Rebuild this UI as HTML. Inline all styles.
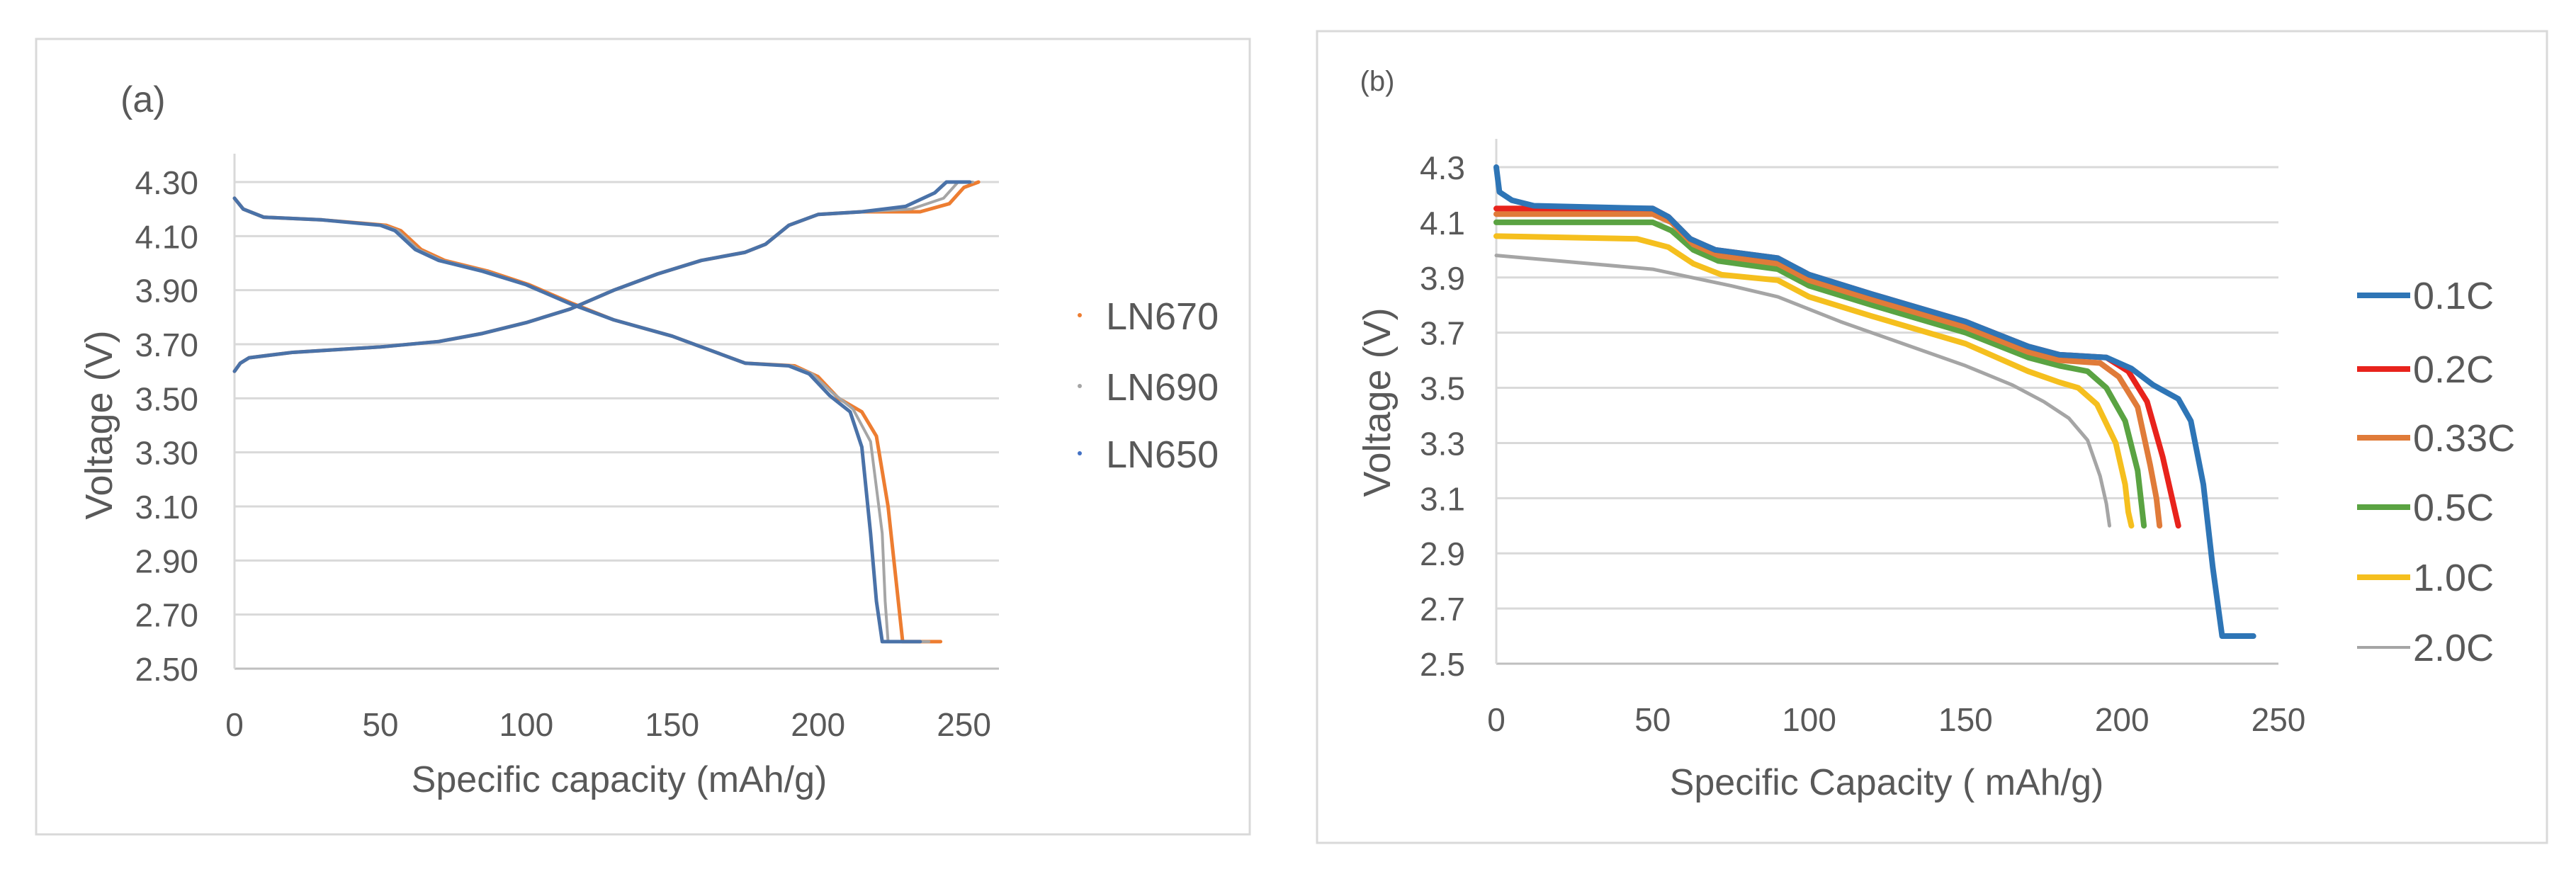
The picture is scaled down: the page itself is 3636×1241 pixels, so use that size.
<!DOCTYPE html>
<html><head><meta charset="utf-8"><style>
html,body{margin:0;padding:0;background:#fff;}
svg{display:block;font-family:"Liberation Sans",sans-serif;}
</style></head><body>
<svg id="chart" width="3636" height="1241" viewBox="0 0 3636 1241" xmlns="http://www.w3.org/2000/svg">
<rect x="51" y="55" width="1713" height="1123" fill="#fff" stroke="#d9d9d9" stroke-width="3"/>
<rect x="1859" y="44" width="1736" height="1146" fill="#fff" stroke="#d9d9d9" stroke-width="3"/>
<g id="pa"></g>
<g id="pb"></g>
</svg>
<script>
// Panel (a) data
const aTicksY = [2.5,2.7,2.9,3.1,3.3,3.5,3.7,3.9,4.1,4.3];
const aTicksX = [0,50,100,150,200,250];
const aNames = ["LN670","LN690","LN650"];
const aColors = ["#ed7d31","#a5a5a5","#4472c4"];
const aCharge670 = [[0,3.60],[2,3.63],[5,3.65],[20,3.67],[50,3.69],[70,3.71],[85,3.74],[100,3.78],[115,3.83],[130,3.90],[145,3.96],[160,4.01],[175,4.04],[182,4.07],[190,4.14],[200,4.18],[215,4.19],[235,4.19],[245,4.22],[250,4.28],[255,4.30]];
const aCharge690 = [[0,3.60],[2,3.63],[5,3.65],[20,3.67],[50,3.69],[70,3.71],[85,3.74],[100,3.78],[115,3.83],[130,3.90],[145,3.96],[160,4.01],[175,4.04],[182,4.07],[190,4.14],[200,4.18],[215,4.19],[232,4.20],[243,4.24],[248,4.30],[253,4.30]];
const aCharge650 = [[0,3.60],[2,3.63],[5,3.65],[20,3.67],[50,3.69],[70,3.71],[85,3.74],[100,3.78],[115,3.83],[130,3.90],[145,3.96],[160,4.01],[175,4.04],[182,4.07],[190,4.14],[200,4.18],[215,4.19],[230,4.21],[240,4.26],[244,4.30],[252,4.30]];
const aDis670 = [[0,4.24],[3,4.20],[10,4.17],[30,4.16],[52,4.14],[57,4.12],[64,4.05],[72,4.01],[87,3.97],[101,3.92],[116,3.85],[130,3.79],[150,3.73],[165,3.67],[175,3.63],[192,3.62],[200,3.58],[207,3.50],[215,3.45],[220,3.36],[224,3.10],[227,2.80],[229,2.60],[242,2.60]];
const aDis690 = [[0,4.24],[3,4.20],[10,4.17],[30,4.16],[51,4.14],[56,4.12],[63,4.05],[71,4.01],[86,3.97],[100,3.92],[115,3.85],[130,3.79],[150,3.73],[165,3.67],[175,3.63],[191,3.62],[198,3.59],[205,3.52],[212,3.46],[218,3.34],[222,3.00],[223,2.75],[224,2.60],[238,2.60]];
const aDis650 = [[0,4.24],[3,4.20],[10,4.17],[30,4.16],[50,4.14],[55,4.12],[62,4.05],[70,4.01],[85,3.97],[100,3.92],[115,3.85],[130,3.79],[150,3.73],[165,3.67],[175,3.63],[190,3.62],[197,3.59],[204,3.51],[211,3.45],[215,3.32],[218,3.00],[220,2.75],[222,2.60],[235,2.60]];
// Panel (b) data
const bTicksY = [2.5,2.7,2.9,3.1,3.3,3.5,3.7,3.9,4.1,4.3];
const bTicksX = [0,50,100,150,200,250];
const bNames = ["0.1C","0.2C","0.33C","0.5C","1.0C","2.0C"];
const bColors = ["#2e75b6","#e8231c","#e07b39","#5aa342","#f5bf1e","#a5a5a5"];
const b01 = [[0,4.30],[1,4.21],[5,4.18],[12,4.16],[50,4.15],[55,4.12],[62,4.04],[70,4.00],[90,3.97],[100,3.91],[120,3.84],[150,3.74],[170,3.65],[180,3.62],[195,3.61],[203,3.57],[210,3.51],[218,3.46],[222,3.38],[226,3.15],[229,2.85],[232,2.60],[242,2.60]];
const b02 = [[0,4.15],[50,4.15],[55,4.12],[62,4.04],[70,4.00],[90,3.97],[100,3.91],[120,3.84],[150,3.74],[170,3.65],[180,3.62],[195,3.61],[202,3.56],[208,3.45],[213,3.25],[216,3.10],[218,3.00]];
const b033 = [[0,4.13],[50,4.13],[56,4.10],[63,4.02],[71,3.98],[90,3.95],[100,3.89],[120,3.82],[150,3.72],[170,3.63],[180,3.60],[193,3.59],[199,3.54],[205,3.43],[209,3.22],[211,3.10],[212,3.00]];
const b05 = [[0,4.10],[50,4.10],[56,4.07],[63,4.00],[71,3.96],[90,3.93],[100,3.87],[120,3.80],[150,3.70],[170,3.61],[180,3.58],[189,3.56],[195,3.50],[201,3.38],[205,3.20],[206,3.10],[207,3.00]];
const b10 = [[0,4.05],[45,4.04],[55,4.01],[63,3.95],[72,3.91],[90,3.89],[100,3.83],[120,3.76],[150,3.66],[170,3.56],[180,3.52],[186,3.50],[192,3.44],[198,3.30],[201,3.15],[202,3.05],[203,3.00]];
const b20 = [[0,3.98],[20,3.96],[50,3.93],[75,3.87],[90,3.83],[110,3.74],[130,3.66],[150,3.58],[165,3.51],[175,3.45],[183,3.39],[189,3.31],[193,3.18],[195,3.08],[196,3.00]];

const NS="http://www.w3.org/2000/svg";
function mk(tag,attrs,parent){const e=document.createElementNS(NS,tag);for(const k in attrs)e.setAttribute(k,attrs[k]);parent.appendChild(e);return e;}

function drawPanel(g,cfg){
  const sx=v=>cfg.x0+(v-cfg.xmin)/(cfg.xmax-cfg.xmin)*(cfg.x1-cfg.x0);
  const sy=v=>cfg.yb-(v-2.5)/(4.3-2.5)*(cfg.yb-cfg.yt);
  cfg.ticksY.forEach((t,i)=>{
    if(i>0){const l=mk('line',{x1:cfg.x0,x2:cfg.gx,y1:sy(t),y2:sy(t),stroke:'#d9d9d9','stroke-width':3},g);
    
    }
    const tx=mk('text',{x:cfg.lx,y:sy(t)+17,'text-anchor':'end','font-size':cfg.fs,fill:'#595959'},g);
    tx.textContent=t.toFixed(cfg.dec);
    
    
  });
  cfg.ticksX.forEach(t=>{
    const tx=mk('text',{x:sx(t),y:cfg.yb+95,'text-anchor':'middle','font-size':cfg.fs,fill:'#595959'},g);
    tx.textContent=t;
    
    
  });
  const ax=mk('line',{x1:cfg.x0,x2:cfg.gx,y1:cfg.yb,y2:cfg.yb,stroke:'#bfbfbf','stroke-width':3},g);
  
  
  const ay=mk('line',{x1:cfg.x0,x2:cfg.x0,y1:cfg.yt-40,y2:cfg.yb,stroke:'#d9d9d9','stroke-width':3},g);
  
  
  cfg.series.forEach(s=>{
    const p=mk('polyline',{points:s.d.map(q=>sx(q[0])+','+sy(q[1])).join(' '),fill:'none',stroke:s.c,'stroke-width':s.w,'stroke-linejoin':'round','stroke-linecap':'round'},g);
    
    
  });
}

const pa=document.getElementById('pa');
drawPanel(pa,{x0:331,x1:1410,xmin:0,xmax:262,gx:1410,yt:257,yb:944,ticksY:aTicksY,ticksX:aTicksX,lx:280,fs:46,dec:2,
 series:[
  {d:aCharge670,c:aColors[0],w:5,n:'series-ln670-charge'},
  {d:aDis670,c:aColors[0],w:5,n:'series-ln670-discharge'},
  {d:aCharge690,c:aColors[1],w:4,n:'series-ln690-charge'},
  {d:aDis690,c:aColors[1],w:4,n:'series-ln690-discharge'},
  {d:aCharge650,c:'#4a72a8',w:5,n:'series-ln650-charge'},
  {d:aDis650,c:'#4a72a8',w:5,n:'series-ln650-discharge'}]});
const pb=document.getElementById('pb');
drawPanel(pb,{x0:2112,x1:3216,xmin:0,xmax:250,gx:3216,yt:236,yb:937,ticksY:bTicksY,ticksX:bTicksX,lx:2068,fs:46,dec:1,
 series:[
  {d:b20,c:bColors[5],w:5,n:'series-2-0c'},
  {d:b10,c:bColors[4],w:8,n:'series-1-0c'},
  {d:b05,c:bColors[3],w:8,n:'series-0-5c'},
  {d:b033,c:bColors[2],w:8,n:'series-0-33c'},
  {d:b02,c:bColors[1],w:8,n:'series-0-2c'},
  {d:b01,c:bColors[0],w:8,n:'series-0-1c'}]});

// titles and legends
function txt(parent,x,y,s,fs,name,extra){const t=mk('text',Object.assign({x:x,y:y,'font-size':fs,fill:'#595959'},extra||{}),parent);t.textContent=s;
 
 return t;}
txt(pa,170,158,'(a)',52,'panel-a-label');
txt(pa,874,1118,'Specific capacity (mAh/g)',52,'x-axis-title',{'text-anchor':'middle'});
txt(pa,0,0,'Voltage (V)',54,'y-axis-title',{'text-anchor':'middle',transform:'translate(158,600) rotate(-90)'});
aNames.forEach((n,i)=>{
  const y=[445,545,640][i];
  const d=mk('circle',{cx:1524,cy:y,r:3,fill:aColors[i]},pa);
  
  
  txt(pa,1561,y+20,n,54,'legend-entry');
});
txt(pb,1944,128,'(b)',40,'panel-b-label',{'text-anchor':'middle'});
txt(pb,2663,1122,'Specific Capacity ( mAh/g)',52,'x-axis-title',{'text-anchor':'middle'});
txt(pb,0,0,'Voltage (V)',54,'y-axis-title',{'text-anchor':'middle',transform:'translate(1962,568) rotate(-90)'});
bNames.forEach((n,i)=>{
  const y=[417,521,618,716,815,914][i];
  const l=mk('line',{x1:3327,x2:3402,y1:y,y2:y,stroke:bColors[i],'stroke-width':i==5?4:8},pb);
  
  
  txt(pb,3406,y+19,n,54,'legend-entry');
});
</script>
</body></html>
